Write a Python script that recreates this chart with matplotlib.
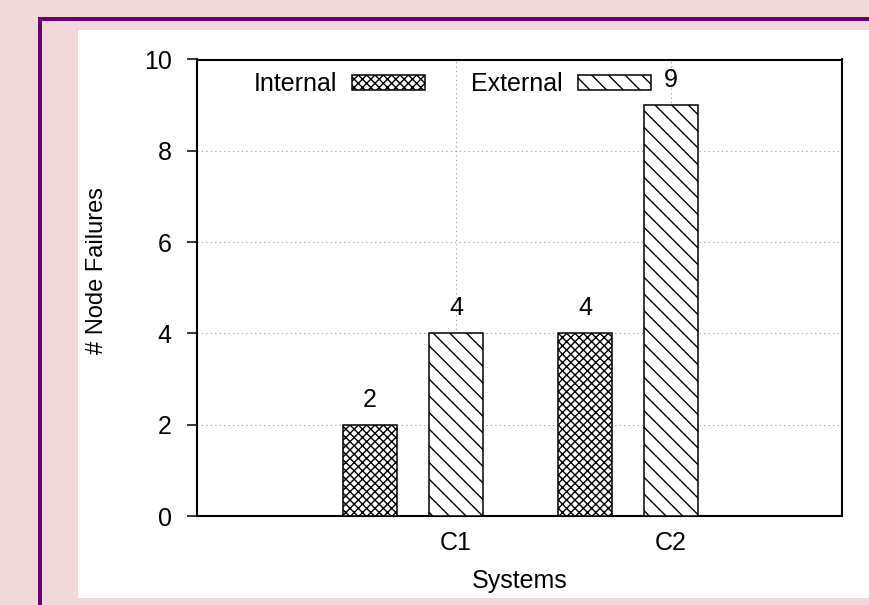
import matplotlib
matplotlib.use("Agg")
import matplotlib.pyplot as plt
from matplotlib.patches import Rectangle
import numpy as np

# ---- data ----
systems = ["C1", "C2"]
internal = [2, 4]
external = [4, 9]
series_names = ["Internal", "External"]
y_ticks = [0, 2, 4, 6, 8, 10]

plt.rcParams['font.family'] = ['Liberation Sans', 'DejaVu Sans']
plt.rcParams['hatch.linewidth'] = 1.0

FS = 18
W, H = 869, 605
fig = plt.figure(figsize=(W / 100, H / 100), dpi=100)
fig.patch.set_facecolor('#f2d9d9')

def px_rect(x0, y0, x1, y1, color, z):
    r = Rectangle((x0 / W, 1 - y1 / H), (x1 - x0) / W, (y1 - y0) / H,
                  transform=fig.transFigure, facecolor=color, edgecolor='none', zorder=z)
    fig.add_artist(r)

# page-like frame
px_rect(38, 17, 869, 21, '#6b0072', 0)
px_rect(38, 17, 42, 605, '#6b0072', 0)
px_rect(78, 30, 869, 598, 'white', 0)

ax = fig.add_axes([197 / W, (H - 516) / H, 645 / W, 456.5 / H])
ax.set_facecolor('none')

x = np.arange(len(systems))
bw = 0.25
off = 0.4
b1 = ax.bar(x - off, internal, bw, facecolor='white', edgecolor='black',
            linewidth=1.1, hatch='xxxx', label=series_names[0], zorder=3)
b2 = ax.bar(x, external, bw, facecolor='white', edgecolor='black',
            linewidth=1.1, hatch='\\\\', label=series_names[1], zorder=3)

for bars, vals in ((b1, internal), (b2, external)):
    for rect, v in zip(bars, vals):
        ax.annotate(str(v), (rect.get_x() + rect.get_width() / 2, v),
                    xytext=(0, 18), textcoords='offset points',
                    ha='center', va='center', fontsize=FS, zorder=4)

ax.set_xlim(-1.205, 1.795)
ax.set_ylim(0, 10)
ax.set_yticks(y_ticks)
ax.set_xticks(x)
ax.set_xticklabels(systems)
ax.tick_params(axis='y', direction='out', length=7.2, width=1.1, pad=11, labelsize=FS)
ax.tick_params(axis='x', length=0, pad=11, labelsize=FS)
for s in ax.spines.values():
    s.set_linewidth(1.5)

ax.grid(True, color='#999999', linestyle=(0, (1, 3)), linewidth=0.8, zorder=0)
ax.set_axisbelow(True)

ax.set_xlabel("Systems", fontsize=FS, labelpad=10)
fig.text(97 / W, 1 - 271 / H, "# Node Failures", rotation=90,
         ha='center', va='center', fontsize=17)

leg = ax.legend(loc='center left', bbox_to_anchor=(0.088, 0.946), ncol=2,
                frameon=False, markerfirst=False, fontsize=FS,
                handlelength=2.92, handleheight=0.56, handletextpad=0.6,
                columnspacing=1.84, borderpad=0, borderaxespad=0)

fig.savefig("out.png", dpi=100, facecolor=fig.get_facecolor())
